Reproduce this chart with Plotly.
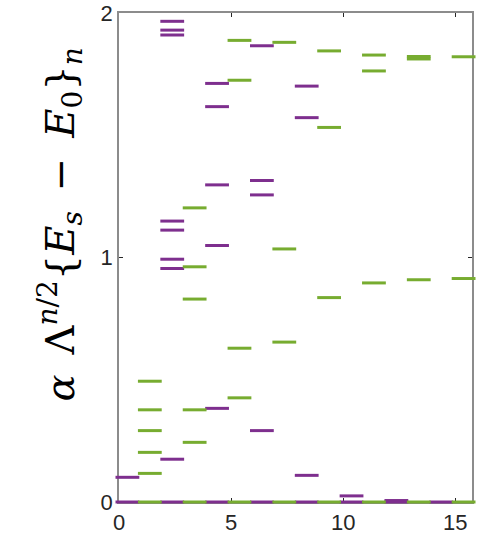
import plotly.graph_objects as go

# Energy levels per sector n (even n in purple, odd n in green)
even_n = [0, 2, 4, 6, 8, 10, 12, 14]
even_levels = [
    [0.0, 0.101],
    [0.0, 0.175, 0.955, 0.993, 1.112, 1.149, 1.910, 1.930, 1.966],
    [0.0, 0.383, 1.049, 1.297, 1.617, 1.712],
    [0.0, 0.292, 1.256, 1.315, 1.866],
    [0.0, 0.109, 1.572, 1.701],
    [0.0, 0.025],
    [0.0, 0.006],
    [0.0],
]

odd_n = [1, 3, 5, 7, 9, 11, 13, 15]
odd_levels = [
    [0.0, 0.117, 0.203, 0.292, 0.377, 0.494],
    [0.0, 0.244, 0.377, 0.830, 0.962, 1.203],
    [0.0, 0.426, 0.629, 1.725, 1.888],
    [0.0, 0.654, 1.035, 1.880],
    [0.0, 0.836, 1.532, 1.845],
    [0.0, 0.896, 1.763, 1.828],
    [0.0, 0.909, 1.812, 1.822],
    [0.0, 0.914, 1.821],
]

x_ticks = [0, 5, 10, 15]
y_ticks = [0, 1, 2]

BAR_CENTER = 0.375   # each level is drawn as a dash over [n, n + 0.75]
PURPLE = "#7E2F8E"
GREEN = "#77AC30"


def level_points(ns, levels):
    xs, ys = [], []
    for n, lv in zip(ns, levels):
        for v in lv:
            xs.append(n + BAR_CENTER)
            ys.append(v)
    return xs, ys


fig = go.Figure()
for ns, lv, col in [(even_n, even_levels, PURPLE), (odd_n, odd_levels, GREEN)]:
    xs, ys = level_points(ns, lv)
    fig.add_trace(go.Scatter(
        x=xs, y=ys, mode="markers",
        marker=dict(symbol="line-ew", size=17, color=col,
                    line=dict(color=col, width=3)),
        cliponaxis=False, showlegend=False, hoverinfo="skip",
    ))

axis_common = dict(
    showline=True, linecolor="#8c8c8c", linewidth=1.5, mirror="ticks",
    ticks="inside", ticklen=4, tickwidth=1, tickcolor="#262626",
    showgrid=False, zeroline=False, layer="below traces", automargin=False,
    tickfont=dict(family="Liberation Sans, Arial", size=22, color="#262626"),
)

fig.update_xaxes(range=[0, 15.75], tickvals=x_ticks, **axis_common)
fig.update_yaxes(range=[0, 2], tickvals=y_ticks, **axis_common)

fig.add_annotation(
    text="<i>α</i>\u2002Λ<sup><i>n</i>/2</sup>{<i>E</i><sub><i>s</i></sub>\u2002−\u2002"
         "<i>E</i><sub>0</sub>}<sub><i>n</i></sub>",
    xref="paper", yref="paper", x=-0.168, y=0.567,
    xanchor="center", yanchor="middle", textangle=-90, showarrow=False,
    font=dict(family="DejaVu Serif", size=40, color="#000000"),
)

fig.update_layout(
    width=487, height=543,
    margin=dict(l=119, r=15, t=13, b=41),
    paper_bgcolor="white", plot_bgcolor="white",
)

fig.write_html("out.html")
